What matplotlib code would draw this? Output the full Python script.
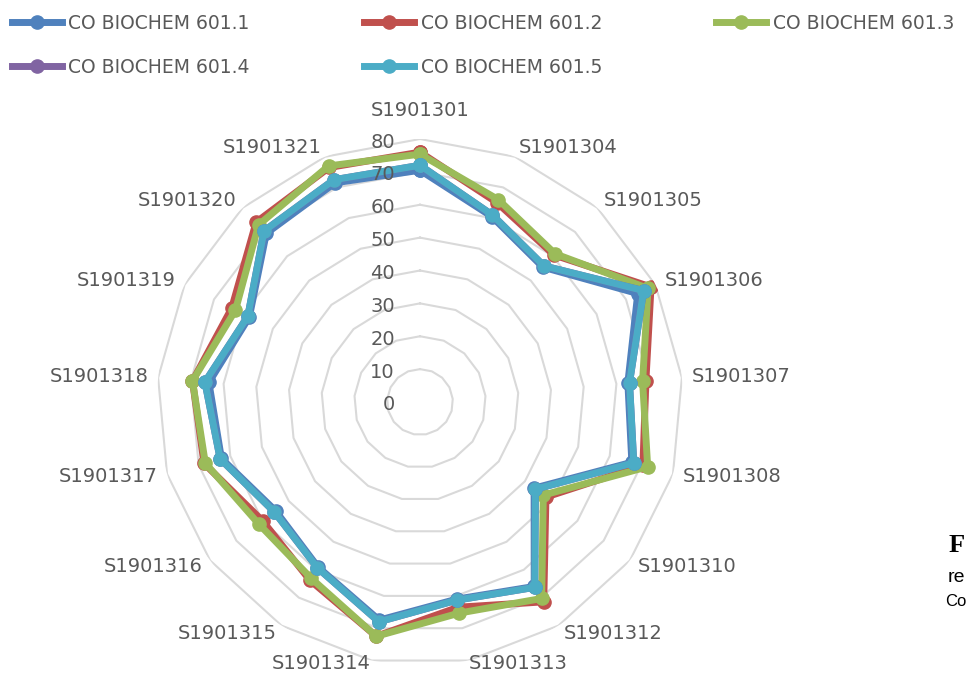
import numpy as np
import matplotlib
matplotlib.use("Agg")
import matplotlib.pyplot as plt
from matplotlib.transforms import offset_copy

categories = ['S1901301', 'S1901304', 'S1901305', 'S1901306', 'S1901307', 'S1901308',
              'S1901310', 'S1901312', 'S1901313', 'S1901314', 'S1901315', 'S1901316',
              'S1901317', 'S1901318', 'S1901319', 'S1901320', 'S1901321']

series_names = ['CO BIOCHEM 601.1', 'CO BIOCHEM 601.2', 'CO BIOCHEM 601.3',
                'CO BIOCHEM 601.4', 'CO BIOCHEM 601.5']

co_601_1 = [70.5, 60.5, 55.5, 74.0, 63.5, 67.0, 43.5, 66.0, 61.0, 67.5, 59.0, 55.0, 62.8, 64.5, 58.0, 69.4, 71.5]
co_601_2 = [76.0, 65.0, 60.5, 78.5, 69.0, 70.5, 48.0, 71.5, 63.5, 72.5, 63.7, 60.0, 68.3, 69.5, 64.0, 74.0, 76.5]
co_601_3 = [75.4, 66.0, 61.0, 77.5, 68.0, 72.0, 47.0, 70.3, 65.3, 72.5, 63.0, 61.5, 67.9, 69.5, 62.7, 72.9, 77.0]
co_601_4 = [72.0, 61.0, 56.0, 76.0, 64.0, 67.6, 44.0, 66.3, 61.3, 68.0, 59.3, 55.5, 63.2, 65.7, 58.5, 70.4, 72.5]
co_601_5 = [72.0, 61.0, 56.0, 76.0, 64.0, 67.6, 44.0, 66.3, 61.3, 68.0, 59.3, 55.5, 63.2, 65.7, 58.5, 70.4, 72.5]

radial_ticks = [0, 10, 20, 30, 40, 50, 60, 70, 80]

colors = ['#4F81BD', '#C0504D', '#9BBB59', '#8064A2', '#4BACC6']
all_series = [co_601_1, co_601_2, co_601_3, co_601_4, co_601_5]

TEXT = '#595959'
FONT = 'DejaVu Sans'
plt.rcParams['font.family'] = [FONT]

W, H = 967, 675
fig = plt.figure(figsize=(W / 100, H / 100), dpi=100)

cx, cy, R = 420, 402, 263
ax = fig.add_axes([(cx - R) / W, (H - cy - R) / H, 2 * R / W, 2 * R / H], projection='polar')
ax.set_theta_zero_location('N')
ax.set_theta_direction(-1)
ax.set_ylim(0, 80)
ax.grid(False)
ax.set_xticks([])
ax.set_yticks([])
ax.spines['polar'].set_visible(False)
ax.patch.set_alpha(0)

n = len(categories)
angles = np.arange(n) * 2 * np.pi / n
closed = np.append(angles, angles[0])

# polygon gridlines
for r in radial_ticks[1:]:
    ax.plot(closed, [r] * (n + 1), color='#D9D9D9', lw=1.5, zorder=1)

handles = []
for name, vals, col in zip(series_names, all_series, colors):
    v = list(vals) + [vals[0]]
    h, = ax.plot(closed, v, color=col, lw=5, marker='o', markersize=9.5,
                 solid_joinstyle='round', zorder=3, label=name)
    handles.append(h)

# category labels
for ang, lab in zip(angles, categories):
    x = np.sin(ang)
    y = np.cos(ang)
    if abs(x) < 0.05:
        ax.text(ang, 88.8, lab, ha='center', va='center', color=TEXT, fontsize=14)
    else:
        rr = 81.0 if (abs(x) < 0.25 and y < 0) else 83.0
        ax.text(ang, rr, lab, ha='left' if x > 0 else 'right', va='center',
                color=TEXT, fontsize=14)

# value axis labels
tr = offset_copy(ax.transData, fig=fig, x=-25, y=-3, units='dots')
for r in radial_ticks:
    ax.text(0, r, str(r), transform=tr, ha='right', va='center', color=TEXT, fontsize=14)

# legend (row-major order)
order = [0, 3, 1, 4, 2]
leg = fig.legend([handles[i] for i in order], [series_names[i] for i in order],
                 loc='upper left', bbox_to_anchor=(11.5 / W, 1 - 14 / H), ncol=3,
                 frameon=False, fontsize=13.5, handlelength=2.67, handletextpad=0.35,
                 columnspacing=6.1, labelspacing=1.31, borderpad=0, borderaxespad=0)
for t in leg.get_texts():
    t.set_color(TEXT)

# partially visible caption text at the right edge
fig.text(949 / W, 1 - 545 / H, 'F', fontsize=19, fontweight='bold',
         family='Liberation Serif', va='center', ha='left', color='black')
fig.text(948 / W, 1 - 578 / H, 're', fontsize=14, family='Liberation Sans',
         va='center', ha='left', color='black')
fig.text(945 / W, 1 - 601 / H, 'Co', fontsize=12, family='Liberation Sans',
         va='center', ha='left', color='black')

fig.savefig('out.png', dpi=100)
